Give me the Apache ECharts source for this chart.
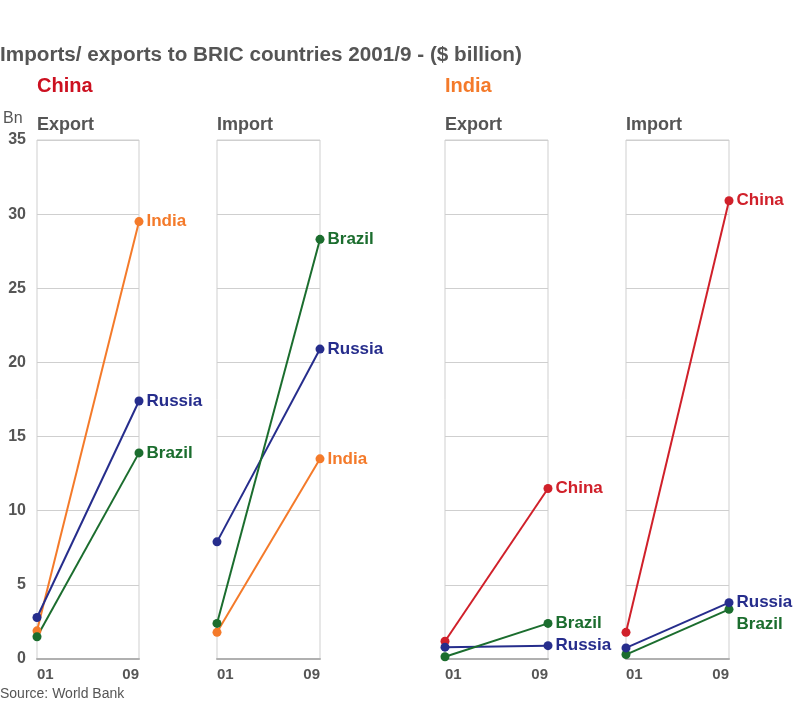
<!DOCTYPE html>
<html><head><meta charset="utf-8">
<script src="https://cdn.jsdelivr.net/npm/echarts@6/dist/echarts.min.js"></script>
<style>html,body{margin:0;padding:0;background:#fff}#c{width:800px;height:705px}</style>
</head><body><div id="c"></div>
<script>
const years = ['01', '09'];
const yTicks = [0, 5, 10, 15, 20, 25, 30, 35];
const panelTitles = ['Export', 'Import', 'Export', 'Import'];
// China export to
const chinaExportIndia = [1.9, 29.5];
const chinaExportRussia = [2.8, 17.4];
const chinaExportBrazil = [1.5, 13.9];
// China import from
const chinaImportBrazil = [2.4, 28.3];
const chinaImportRussia = [7.9, 20.9];
const chinaImportIndia = [1.8, 13.5];
// India export to
const indiaExportChina = [1.2, 11.5];
const indiaExportBrazil = [0.15, 2.4];
const indiaExportRussia = [0.8, 0.9];
// India import from
const indiaImportChina = [1.8, 30.9];
const indiaImportRussia = [0.75, 3.8];
const indiaImportBrazil = [0.3, 3.35];

const COL = {China:'#d0202a', India:'#f47a2a', Russia:'#262d8c', Brazil:'#1b6d2e'};
const panels = [
  [['India', chinaExportIndia], ['Russia', chinaExportRussia], ['Brazil', chinaExportBrazil]],
  [['India', chinaImportIndia], ['Russia', chinaImportRussia], ['Brazil', chinaImportBrazil]],
  [['China', indiaExportChina], ['Russia', indiaExportRussia], ['Brazil', indiaExportBrazil]],
  [['China', indiaImportChina], ['Russia', indiaImportRussia], ['Brazil', indiaImportBrazil]]
];
const lefts = [37, 217, 445, 626];
const widths = [102, 103, 103, 103];
const FONT = 'Liberation Sans, Arial, sans-serif';

const grid = [], xAxis = [], yAxis = [], series = [];
panels.forEach((p, i) => {
  grid.push({left: lefts[i], width: widths[i], top: 140, height: 519, show: true, borderColor: '#cfcfcf', borderWidth: 1});
  xAxis.push({gridIndex: i, type: 'category', data: years, boundaryGap: false,
    axisLine: {show: true, lineStyle: {color: '#b0b0b0', width: 2}}, axisTick: {show: false},
    axisLabel: {color: '#555', fontSize: 15, fontWeight: 'bold', fontFamily: FONT, margin: 8,
      alignMinLabel: 'left', alignMaxLabel: 'right'}, splitLine: {show: false}});
  yAxis.push({gridIndex: i, type: 'value', min: yTicks[0], max: yTicks[yTicks.length-1], interval: 5,
    axisLine: {show: false}, axisTick: {show: false},
    axisLabel: {show: i === 0, color: '#555', fontSize: 16, fontWeight: 'bold', fontFamily: FONT, margin: 11},
    splitLine: {show: true, lineStyle: {color: '#cfcfcf', width: 1}}});
  p.forEach(([name, vals]) => {
    const off = (i === 3 && name === 'Brazil') ? [0, 15] : [0, 0];
    series.push({type: 'line', name: name, xAxisIndex: i, yAxisIndex: i,
      data: vals.map((v, k) => k === 1 ? {value: v, label: {show: true, position: 'right', distance: 3, offset: off,
        formatter: name, color: COL[name], fontSize: 17, fontWeight: 'bold', fontFamily: FONT}} : v),
      symbol: 'circle', symbolSize: 9, showSymbol: true,
      lineStyle: {color: COL[name], width: 2}, itemStyle: {color: COL[name]},
      label: {show: false}, animation: false, z: name === 'Russia' && i === 3 ? 3 : 2});
  });
});

const txt = (x, y, text, color, size, weight) => ({type: 'text', left: x, top: y,
  style: {text: text, fill: color, fontSize: size, fontWeight: weight, fontFamily: FONT}});
const graphic = [
  txt(0, 45, 'Imports/ exports to BRIC countries 2001/9 - ($ billion)', '#555', 20.7, 'bold'),
  txt(37, 76, 'China', '#cc1020', 20, 'bold'),
  txt(445, 76, 'India', '#f47a2a', 20, 'bold'),
  txt(3, 111, 'Bn', '#555', 16, 'normal'),
  txt(0, 687, 'Source: World Bank', '#555', 14, 'normal')
];
panelTitles.forEach((t, i) => graphic.push(txt(lefts[i], 116, t, '#555', 18, 'bold')));

const chart = echarts.init(document.getElementById('c'));
chart.setOption({animation: false, grid, xAxis, yAxis, series, graphic});
</script></body></html>
